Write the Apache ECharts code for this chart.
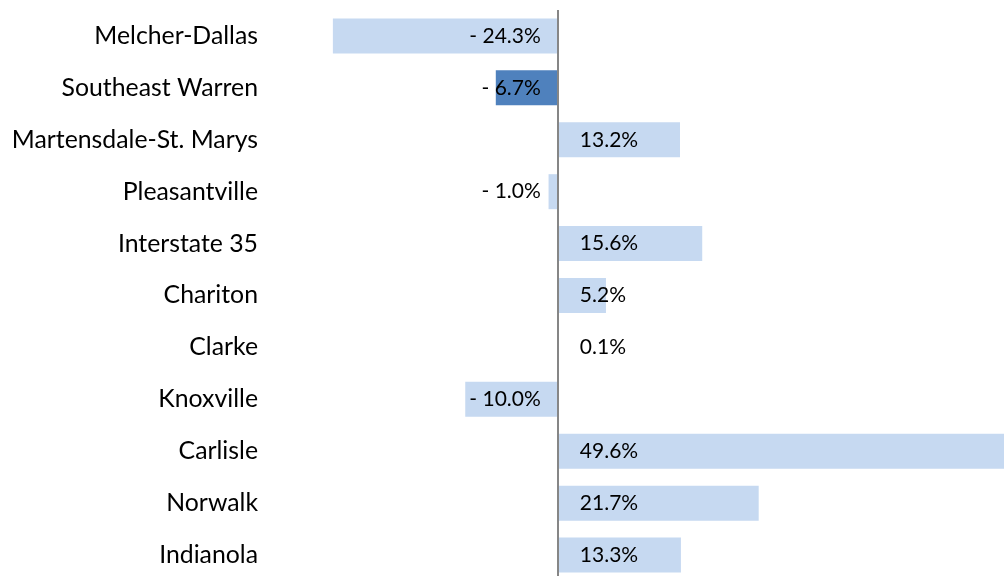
<!DOCTYPE html>
<html>
<head>
<meta charset="utf-8">
<script src="https://cdn.jsdelivr.net/npm/echarts@6/dist/echarts.min.js"></script>
<style>
html,body{margin:0;padding:0;background:#fff;overflow:hidden;width:1004px;height:576px;}
#chart{width:1004px;height:582px;}
</style>
</head>
<body>
<div id="chart"></div>
<script>
const categories = ['Melcher-Dallas','Southeast Warren','Martensdale-St. Marys','Pleasantville','Interstate 35','Chariton','Clarke','Knoxville','Carlisle','Norwalk','Indianola'];
const values = [-24.3, -6.7, 13.2, -1.0, 15.6, 5.2, 0.1, -10.0, 49.6, 21.7, 13.3];
const highlighted = ['Southeast Warren'];

const FONT = 'Lato';
const chart = echarts.init(document.getElementById('chart'), null, {renderer: 'canvas'});
chart.setOption({
  animation: false,
  backgroundColor: '#ffffff',
  grid: {left: 269, right: 0, top: 10, bottom: 1},
  xAxis: {
    type: 'value', min: -31.2, max: 48.2, show: false, splitLine: {show: false}
  },
  yAxis: {
    type: 'category', data: categories, inverse: true,
    axisLine: {show: false}, axisTick: {show: false}, splitLine: {show: false},
    axisLabel: {margin: 11, color: '#000', fontFamily: FONT, fontSize: 24.8}
  },
  series: [{
    type: 'bar',
    barWidth: 35,
    clip: true,
    data: values.map((v, i) => ({
      value: v,
      itemStyle: {color: highlighted.includes(categories[i]) ? '#4f81bd' : '#c6d9f1'},
      label: {position: v < 0 ? 'insideRight' : 'insideLeft', distance: v < 0 ? 17 : 22}
    })),
    label: {
      show: true, color: '#000', fontFamily: FONT, fontSize: 21,
      formatter: p => (p.value < 0 ? '- ' + Math.abs(p.value).toFixed(1) : p.value.toFixed(1)) + '%'
    },
    markLine: {
      silent: true, symbol: 'none', label: {show: false},
      lineStyle: {color: '#868686', width: 2, type: 'solid'},
      data: [{xAxis: 0}]
    }
  }]
});
</script>
</body>
</html>
